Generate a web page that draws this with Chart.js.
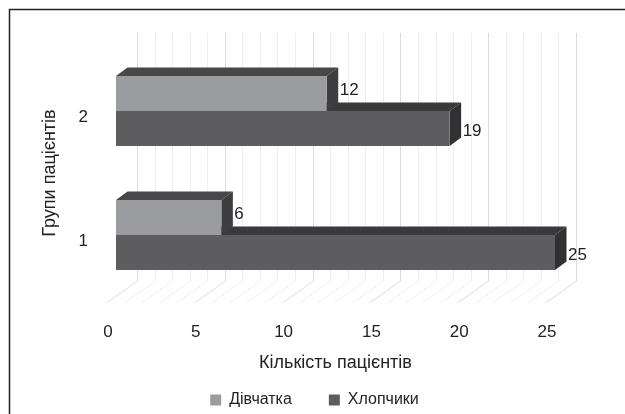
<!DOCTYPE html>
<html>
<head>
<meta charset="utf-8">
<style>
  html, body { margin: 0; padding: 0; background: #fff; }
  #wrap { width: 625px; height: 414px; }
</style>
<script src="https://cdn.jsdelivr.net/npm/chart.js@4/dist/chart.umd.js"></script>
</head>
<body>
<div id="wrap"><canvas id="patientsChart" width="625" height="414"></canvas></div>
<script>
// Групи пацієнтів за статтю
const groups = ['2', '1'];
const girls = [12, 6];
const boys = [19, 25];
const xTickLabels = [0, 5, 10, 15, 20, 25];

const FONT = '"Liberation Sans", sans-serif';
const TEXT = '#222222';

// глибина псевдо-3D
const DEPTH_X = 11.5;
const DEPTH_Y = 8.5;

const COLORS = {
    girls: { front: '#9b9c9f', top: '#48484a', side: '#3e3e40' },
    boys: { front: '#5d5d5f', top: '#3a3a3c', side: '#313133' }
};

function drawBox3d(ctx, bar, c) {
    const top = bar.y - bar.height / 2;
    const bottom = bar.y + bar.height / 2;
    ctx.fillStyle = c.top;
    ctx.beginPath();
    ctx.moveTo(bar.base, top);
    ctx.lineTo(bar.base + DEPTH_X, top - DEPTH_Y);
    ctx.lineTo(bar.x + DEPTH_X, top - DEPTH_Y);
    ctx.lineTo(bar.x, top);
    ctx.closePath();
    ctx.fill();
    ctx.fillStyle = c.side;
    ctx.beginPath();
    ctx.moveTo(bar.x, top);
    ctx.lineTo(bar.x + DEPTH_X, top - DEPTH_Y);
    ctx.lineTo(bar.x + DEPTH_X, bottom - DEPTH_Y);
    ctx.lineTo(bar.x, bottom);
    ctx.closePath();
    ctx.fill();
}

// рамка, задня стінка й підлога сітки, бокові грані стовпчиків
const backdrop = {
    id: 'backdrop',
    beforeDatasetsDraw(chart) {
        const { ctx, chartArea, scales } = chart;
        ctx.save();
        ctx.strokeStyle = '#222';
        ctx.lineWidth = 1.5;
        ctx.beginPath();
        ctx.moveTo(9.5, chart.height);
        ctx.lineTo(9.5, 9.5);
        ctx.lineTo(chart.width, 9.5);
        ctx.stroke();

        ctx.lineWidth = 1;
        scales.x.ticks.forEach(t => {
            const px = Math.round(scales.x.getPixelForValue(t.value)) + 21.5;
            const wallTop = chartArea.top - 16;
            const wallBottom = chartArea.bottom - 16;
            ctx.strokeStyle = t.value % 5 === 0 ? '#dcdcde' : '#eeeeef';
            ctx.beginPath();
            ctx.moveTo(px, wallTop);
            ctx.lineTo(px, wallBottom);
            ctx.lineTo(px - 31, chartArea.bottom + 6);
            ctx.stroke();
        });

        chart.getDatasetMeta(1).data.forEach(b => drawBox3d(ctx, b, COLORS.boys));
        chart.getDatasetMeta(0).data.forEach(b => drawBox3d(ctx, b, COLORS.girls));
        ctx.restore();
    },
    afterDatasetsDraw(chart) {
        const { ctx } = chart;
        ctx.save();
        ctx.font = '17px ' + FONT;
        ctx.fillStyle = TEXT;
        ctx.textAlign = 'left';
        ctx.textBaseline = 'middle';
        chart.data.datasets.forEach((ds, i) => {
            const shift = i === 0 ? -3 : 3;
            chart.getDatasetMeta(i).data.forEach((b, j) => {
                ctx.fillText(ds.data[j], b.x + 13, b.y + shift);
            });
        });
        ctx.restore();
    }
};

new Chart(document.getElementById('patientsChart'), {
    type: 'bar',
    plugins: [backdrop],
    data: {
        labels: groups,
        datasets: [
            { label: 'Дівчатка', data: girls, backgroundColor: COLORS.girls.front },
            { label: 'Хлопчики', data: boys, backgroundColor: COLORS.boys.front }
        ]
    },
    options: {
        indexAxis: 'y',
        responsive: false,
        animation: false,
        categoryPercentage: 70 / 124,
        barPercentage: 1,
        // від'ємний низ: legend.padding задає і проміжок між пунктами, і висоту блоку;
        // лівий відступ зсуває легенду до центру сторінки
        layout: { padding: { top: 49, right: 70, bottom: -4, left: 74 } },
        plugins: {
            tooltip: { enabled: false },
            legend: {
                position: 'bottom',
                onClick: null,
                labels: {
                    font: { family: FONT, size: 16 },
                    color: TEXT,
                    boxWidth: 11,
                    boxHeight: 11,
                    padding: 37
                }
            }
        },
        scales: {
            x: {
                min: 0,
                max: 25,
                grid: { display: false },
                border: { display: false },
                afterFit(scale) { scale.height = 58; },
                ticks: {
                    stepSize: 1,
                    autoSkip: false,
                    maxRotation: 0,
                    padding: 17,
                    labelOffset: -8,
                    color: TEXT,
                    font: { family: FONT, size: 17 },
                    callback: v => xTickLabels.includes(v) ? String(v) : ''
                },
                title: {
                    display: true,
                    text: 'Кількість пацієнтів',
                    color: TEXT,
                    font: { family: FONT, size: 18 },
                    padding: { top: 0, bottom: -19 }
                }
            },
            y: {
                grid: { display: false },
                border: { display: false },
                afterFit(scale) { scale.width = 42; },
                ticks: {
                    padding: 20,
                    labelOffset: 6,
                    color: TEXT,
                    font: { family: FONT, size: 17 }
                },
                title: {
                    display: true,
                    text: 'Групи пацієнтів',
                    color: TEXT,
                    font: { family: FONT, size: 18 },
                    padding: { top: -35, bottom: 0 }
                }
            }
        }
    }
});
</script>
</body>
</html>
